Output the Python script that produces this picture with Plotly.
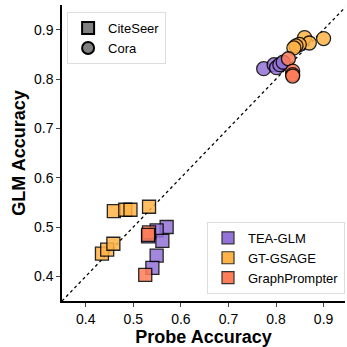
import plotly.graph_objects as go

methods = ["TEA-GLM", "GT-GSAGE", "GraphPrompter"]
colors = {"TEA-GLM": "#9473d8", "GT-GSAGE": "#ffb347", "GraphPrompter": "#ff7d58"}

# CiteSeer (squares)
cs_probe = {
    "TEA-GLM": [0.570, 0.549, 0.561, 0.549, 0.540, 0.531],
    "GT-GSAGE": [0.459, 0.483, 0.494, 0.533, 0.434, 0.445, 0.458],
    "GraphPrompter": [0.533, 0.531, 0.525],
}
cs_glm = {
    "TEA-GLM": [0.500, 0.493, 0.472, 0.442, 0.417, 0.481],
    "GT-GSAGE": [0.532, 0.535, 0.535, 0.541, 0.446, 0.454, 0.466],
    "GraphPrompter": [0.489, 0.484, 0.403],
}
# Cora (circles)
co_probe = {
    "TEA-GLM": [0.774, 0.796, 0.801, 0.808, 0.815],
    "GT-GSAGE": [0.860, 0.900, 0.870, 0.849, 0.842, 0.8375],
    "GraphPrompter": [0.826, 0.835, 0.835, 0.835],
}
co_glm = {
    "TEA-GLM": [0.821, 0.829, 0.823, 0.829, 0.834],
    "GT-GSAGE": [0.884, 0.882, 0.873, 0.870, 0.867, 0.863],
    "GraphPrompter": [0.841, 0.816, 0.809, 0.806],
}

x_range = [0.35, 0.945]
y_range = [0.35, 0.95]
tick_vals = [0.4, 0.5, 0.6, 0.7, 0.8, 0.9]

FONT = "Arial, Liberation Sans, sans-serif"
fig = go.Figure()

# diagonal
fig.add_trace(go.Scatter(x=[0.35, 0.95], y=[0.35, 0.95], mode="lines",
                         line=dict(color="black", width=1.3, dash="dot"),
                         showlegend=False, hoverinfo="skip"))

for m in methods:
    fig.add_trace(go.Scatter(x=cs_probe[m], y=cs_glm[m], mode="markers",
                             marker=dict(symbol="square", size=13, color=colors[m],
                                         opacity=0.85, line=dict(color="black", width=1.3)),
                             showlegend=False))
for m in methods:
    fig.add_trace(go.Scatter(x=co_probe[m], y=co_glm[m], mode="markers",
                             marker=dict(symbol="circle", size=14, color=colors[m],
                                         opacity=0.85, line=dict(color="black", width=1.3)),
                             showlegend=False))

# dataset legend
for name, sym in [("CiteSeer", "square"), ("Cora", "circle")]:
    fig.add_trace(go.Scatter(x=[None], y=[None], mode="markers", name=name,
                             marker=dict(symbol=sym, size=14, color="#808080",
                                         line=dict(color="black", width=1.2)),
                             legend="legend"))
# method legend
for m in methods:
    fig.add_trace(go.Bar(x=[None], y=[None], name=m,
                         marker=dict(color=colors[m], line=dict(color="#333333", width=1.2)),
                         legend="legend2"))

fig.update_layout(
    width=347, height=347,
    margin=dict(l=62, r=2, t=5, b=46),
    plot_bgcolor="white", paper_bgcolor="white",
    font=dict(family=FONT, size=14, color="black"),
    xaxis=dict(range=x_range, tickvals=tick_vals, ticks="outside", ticklen=4,
               showline=True, linecolor="black", linewidth=1.5, showgrid=False,
               zeroline=False, tickfont=dict(size=14), automargin=False,
               title=dict(text="<b>Probe Accuracy</b>", font=dict(size=18), standoff=3)),
    yaxis=dict(range=y_range, tickvals=tick_vals, ticks="outside", ticklen=4,
               showline=True, linecolor="black", linewidth=1.5, showgrid=False,
               zeroline=False, tickfont=dict(size=14), automargin=False,
               title=dict(text="<b>GLM Accuracy</b>", font=dict(size=18), standoff=4)),
    legend=dict(x=0.018, y=0.976, xanchor="left", yanchor="top",
                bgcolor="white", bordercolor="#dddddd", borderwidth=1,
                font=dict(size=13), itemsizing="constant", tracegroupgap=0),
    legend2=dict(x=1.0, y=0.024, xanchor="right", yanchor="bottom",
                 bgcolor="white", bordercolor="#dddddd", borderwidth=1,
                 font=dict(size=13), tracegroupgap=0),
)

fig.write_html("out.html", config={"displayModeBar": False},
               post_script="document.body.style.margin='0';")
